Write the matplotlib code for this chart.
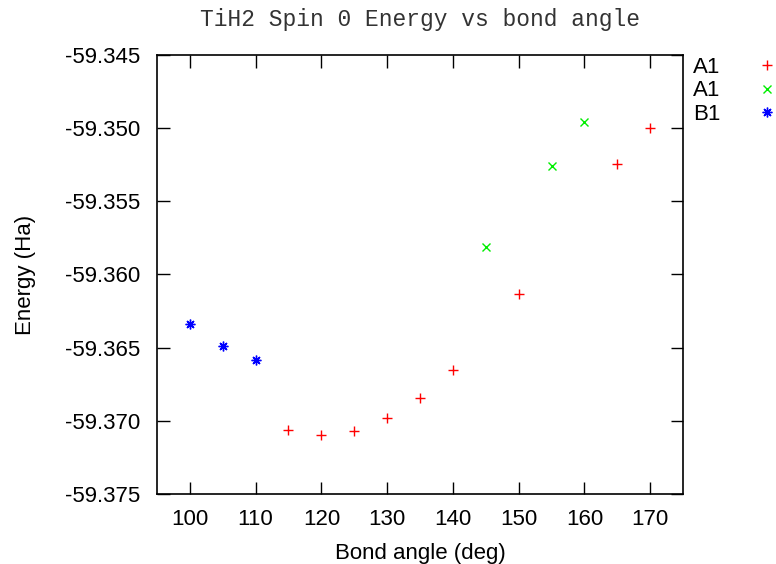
import matplotlib
matplotlib.use('Agg')
import matplotlib.pyplot as plt
from matplotlib.ticker import FormatStrFormatter

plt.rcParams['font.family'] = 'Liberation Sans'
plt.rcParams['axes.unicode_minus'] = False

# A1 (red +)
a1_angle = [115, 120, 125, 130, 135, 140, 150, 165, 170]
a1_energy = [-59.37061, -59.37096, -59.37068, -59.36980, -59.36843,
             -59.36652, -59.36133, -59.35245, -59.34999]

# A1 (green x)
a1b_angle = [145, 155, 160]
a1b_energy = [-59.35811, -59.35258, -59.34958]

# B1 (blue *)
b1_angle = [100, 105, 110]
b1_energy = [-59.36337, -59.36488, -59.36583]

fig = plt.figure(figsize=(7.76, 5.64), dpi=100)
ax = fig.add_axes([0.2023, 0.1241, 0.6779, 0.7784])

ax.plot(a1_angle, a1_energy, ls='none', marker='+', ms=7, mew=1, color='#ff0000', label='A1')
ax.plot(a1b_angle, a1b_energy, ls='none', marker='x', ms=6, mew=1, color='#00ee00', label='A1')
ax.plot(b1_angle, b1_energy, ls='none', marker=(8, 2, 0), ms=7, mew=1, color='#0000ff', label='B1')

ax.set_xlim(95, 175)
ax.set_ylim(-59.375, -59.345)
ax.set_xticks([100, 110, 120, 130, 140, 150, 160, 170])
ax.set_yticks([-59.375, -59.370, -59.365, -59.360, -59.355, -59.350, -59.345])
ax.yaxis.set_major_formatter(FormatStrFormatter('%.3f'))
ax.tick_params(direction='in', length=9, width=1, top=True, right=True,
               labelsize=16)
ax.tick_params(axis='y', pad=12)
ax.tick_params(axis='x', pad=11)
for s in ax.spines.values():
    s.set_linewidth(1.2)

ax.set_xlabel('Bond angle (deg)', fontsize=16, labelpad=9)
ax.set_ylabel('Energy (Ha)', fontsize=16, labelpad=21)
ax.set_title('TiH2 Spin 0 Energy vs bond angle', family='Liberation Mono',
             fontsize=16.5, color='#333333', pad=21)

ax.legend(loc='upper left', bbox_to_anchor=(0.882, 0.915), bbox_transform=fig.transFigure,
          markerfirst=False, frameon=False, fontsize=16, handlelength=0.6,
          handletextpad=1.8, labelspacing=0.12, borderaxespad=0)

plt.savefig('out.png', dpi=100)
